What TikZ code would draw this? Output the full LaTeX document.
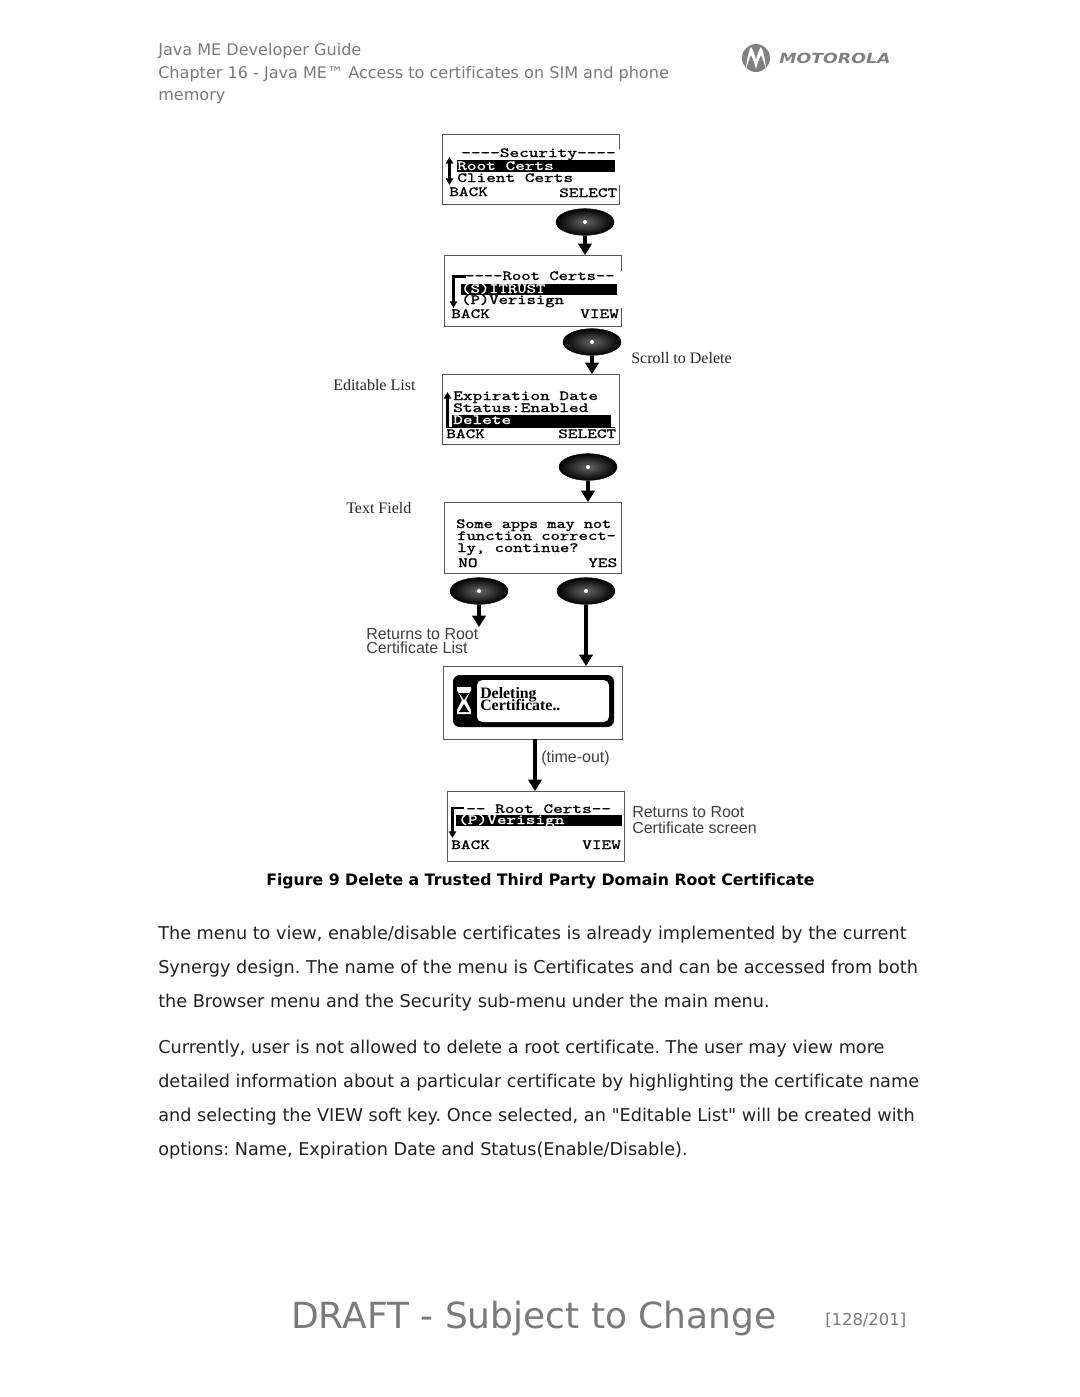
\documentclass[tikz,border=0pt]{standalone}
\usepackage{fontspec}
\usepackage{graphicx}
\setmainfont[Ligatures=NoCommon]{DejaVu Sans}
\newfontfamily\plainfont[Ligatures=NoCommon]{DejaVu Sans}
\newfontfamily\serifl{Liberation Serif}
\newfontfamily\sansl{Liberation Sans}
\newfontfamily\screenfont[FakeBold=1.0]{Latin Modern Mono}
\usetikzlibrary{arrows.meta,shapes.geometric,calc}
\definecolor{headgray}{HTML}{7A7A7A}
\definecolor{bodyink}{HTML}{222222}
\definecolor{framegray}{HTML}{555555}
\frenchspacing
\newcommand{\scr}[2][1.313]{\scalebox{#1}[1]{\screenfont\fontsize{10.5}{10.5}\selectfont #2}}
\tikzset{
  x=0.75pt, y=-0.75pt,
  headline/.style={anchor=base west, inner sep=0, text=headgray, font=\plainfont\fontsize{12.05}{12}\selectfont},
  bodyline/.style={anchor=base west, inner sep=0, text=bodyink, font=\plainfont\fontsize{13.25}{13}\selectfont},
  screenframe/.style={draw=framegray, line width=0.9pt, fill=white, minimum width=0, inner sep=0, rectangle},
  scrtext/.style={anchor=base west, inner sep=0, text=black},
  hitext/.style={anchor=base west, inner sep=0, text=white},
  hibar/.style={fill=black, draw=none},
  wheel/.style={ellipse, inner sep=0, minimum width=43.5pt, minimum height=20pt, inner color=black!60, outer color=black, draw=black, line width=0.3pt},
  wheeldot/.style={circle, fill=white, inner sep=0, minimum size=3pt},
  flow/.style={line width=2.3pt, -{Triangle[width=10pt,length=8.5pt]}, black},
  scrollarrow/.style={line width=1.8pt, -{Triangle[width=5.5pt,length=5pt]}, black},
  noteserif/.style={anchor=base west, inner sep=0, text=black!85, font=\serifl\fontsize{12}{12}\selectfont},
  notesans/.style={anchor=base west, inner sep=0, text=black!75, font=\sansl\fontsize{12}{12}\selectfont},
}
\newcommand{\screenbox}[5]{% name, left, top, right, bottom
  \node[screenframe, anchor=north west, minimum width={(#4-#2)*0.75pt}, minimum height={(#5-#3)*0.75pt}] (#1) at (#2,#3) {};
}
\begin{document}
\begin{tikzpicture}
\useasboundingbox (0,0) rectangle (1080,1397);
\fill[white] (0,0) rectangle (1080,1397);

% Page header
\node[headline] (h1) at (158,55) {Java ME Developer Guide};
\node[headline] (h2) at (158,78) {Chapter 16 - Java ME™ Access to certificates on SIM and phone};
\node[headline] (h3) at (158,100) {memory};

% Company logo
\node[circle, fill=black!50, inner sep=0, minimum size=21pt] (logo) at (756,58) {};
\fill[white] (746,69) .. controls (747,58) and (749,50) .. (751,47) .. controls (753,50) and (755,55) .. (756,60) .. controls (757,55) and (759,50) .. (761,47) .. controls (763,50) and (765,58) .. (766,69) .. controls (764,62) and (762,57) .. (761,55) .. controls (759,59) and (757,65) .. (756,69) .. controls (755,65) and (753,59) .. (751,55) .. controls (750,57) and (748,62) .. (746,69) -- cycle;
\node[anchor=base west, inner sep=0, text=black!50] (logotext) at (779,63) {\scalebox{1.24}[1]{\bfseries\itshape\fontsize{10.5}{10.5}\selectfont MOTOROLA}};

% Screen 1: Security menu
\screenbox{s1}{442}{134}{619}{204}
\fill[white] (617,149) rectangle (621,185);
\fill[hibar] (457,160) rectangle (615,172);
\node[scrtext] (s1a) at (461,157) {\scr{----Security----}};
\node[hitext] (s1b) at (457,170) {\scr{Root Certs}};
\node[scrtext] (s1c) at (457,182) {\scr{Client Certs}};
\node[scrtext] (s1d) at (449,196) {\scr{BACK}};
\node[scrtext] (s1e) at (559,197) {\scr{SELECT}};
\draw[scrollarrow] (449.5,173) -- (449.5,157);
\draw[scrollarrow] (449.5,166) -- (449.5,185);

% Screen 2: Root certificate list
\screenbox{s2}{444}{255}{621}{326}
\fill[white] (619,271) rectangle (623,308);
\fill[hibar] (461,284) rectangle (617,295);
\node[scrtext] (s2a) at (465,280) {\scr[1.27]{----Root Certs--}};
\node[hitext] (s2b) at (461,293) {\scr[1.27]{(S)ITRUST}};
\node[scrtext] (s2c) at (461,304) {\scr[1.27]{(P)Verisign}};
\node[scrtext] (s2d) at (451,318) {\scr{BACK}};
\node[scrtext] (s2e) at (580,318) {\scr{VIEW}};
\draw[scrollarrow] (466,276.5) -- (453.5,276.5) -- (453.5,308);

% Screen 3: Editable list
\screenbox{s3}{442}{374}{619}{444}
\fill[hibar] (452,415) rectangle (611,427);
\fill[hibar] (447,427) rectangle (615,428);
\node[scrtext] (s3a) at (453,400) {\scr{Expiration Date}};
\node[scrtext] (s3b) at (453,412) {\scr{Status:Enabled}};
\node[hitext] (s3c) at (453,424) {\scr{Delete}};
\node[scrtext] (s3d) at (446,438) {\scr{BACK}};
\node[scrtext] (s3e) at (558,438) {\scr{SELECT}};
\draw[scrollarrow] (447.5,428) -- (447.5,392);

% Screen 4: Confirmation text field
\screenbox{s4}{444}{502}{621}{573}
\node[scrtext] (s4a) at (456,528) {\scr[1.24]{Some apps may not}};
\node[scrtext] (s4b) at (457,540) {\scr[1.27]{function correct-}};
\node[scrtext] (s4c) at (457,552) {\scr[1.27]{ly, continue?}};
\node[scrtext] (s4d) at (458,567) {\scr{NO}};
\node[scrtext] (s4e) at (588,567) {\scr{YES}};

% Screen 5: Deleting progress
\screenbox{s5}{443}{666}{622}{739}
\fill[black, rounded corners=5pt] (453,675) rectangle (614,727);
\fill[white, rounded corners=4pt] (477,680) rectangle (609,722);
\fill[white] (457,687) -- (471,687) -- (471,690) -- (466,700) -- (471,710) -- (471,714) -- (457,714) -- (457,710) -- (462,700) -- (457,690) -- cycle;
\fill[black] (459,693) -- (469,693) -- (464,700) -- cycle;
\fill[black] (459,712) -- (464,704) -- (469,712) -- cycle;
\node[anchor=base west, inner sep=0, text=black] (s5a) at (480,698) {\serifl\bfseries\fontsize{11.9}{12}\selectfont Deleting};
\node[anchor=base west, inner sep=0, text=black] (s5b) at (480,710) {\serifl\bfseries\fontsize{11.9}{12}\selectfont Certificate..};

% Screen 6: Updated root list
\screenbox{s6}{447}{791}{624}{861}
\fill[hibar] (456,815) rectangle (622,826);
\node[scrtext] (s6a) at (466,813) {\scr{-- Root Certs--}};
\node[hitext] (s6b) at (458,824) {\scr{(P)Verisign}};
\node[scrtext] (s6c) at (451,849) {\scr{BACK}};
\node[scrtext] (s6d) at (582,849) {\scr{VIEW}};
\draw[scrollarrow] (464,808) -- (452.5,808) -- (452.5,838);

% Navigation keys
\node[wheel] (w1) at (585,222) {}; \node[wheeldot] (d1) at (w1) {};
\node[wheel] (w2) at (592,342) {}; \node[wheeldot] (d2) at (w2) {};
\node[wheel] (w3) at (588,467) {}; \node[wheeldot] (d3) at (w3) {};
\node[wheel] (w4) at (479,591) {}; \node[wheeldot] (d4) at (w4) {};
\node[wheel] (w5) at (586,591) {}; \node[wheeldot] (d5) at (w5) {};

% Transitions
\coordinate (back) at (479,627);
\coordinate (outtop) at (535,739);
\draw[flow] (w1.south) -- (w1.south |- s2.north);
\draw[flow] (w2.south) -- (w2.south |- s3.north);
\draw[flow] (w3.south) -- (w3.south |- s4.north);
\draw[flow] (w4.south) -- (back);
\draw[flow] (w5.south) -- (w5.south |- s5.north);
\draw[flow] (outtop) -- (outtop |- s6.north);

% Annotations
\node[noteserif] (n1) at (631,363) {Scroll to Delete};
\node[noteserif] (n2) at (333,390) {Editable List};
\node[noteserif] (n3) at (346,513) {Text Field};
\node[notesans] (n4) at (366,639) {Returns to Root};
\node[notesans] (n5) at (366,653) {Certificate List};
\node[notesans] (n6) at (541,762) {(time-out)};
\node[notesans] (n7) at (632,817) {Returns to Root};
\node[notesans] (n8) at (632,833) {Certificate screen};

% Caption
\node[anchor=base west, inner sep=0, text=black] (cap) at (266,885) {\plainfont\bfseries\fontsize{11.8}{12}\selectfont Figure 9 Delete a Trusted Third Party Domain Root Certificate};

% Body text
\node[bodyline] (b1) at (158,939) {The menu to view, enable/disable certificates is already implemented by the current};
\node[bodyline] (b2) at (158,973) {Synergy design. The name of the menu is Certificates and can be accessed from both};
\node[bodyline] (b3) at (158,1007) {the Browser menu and the Security sub-menu under the main menu.};
\node[bodyline] (b4) at (158,1053) {Currently, user is not allowed to delete a root certificate. The user may view more};
\node[bodyline] (b5) at (158,1087) {detailed information about a particular certificate by highlighting the certificate name};
\node[bodyline] (b6) at (158,1121) {and selecting the VIEW soft key. Once selected, an "Editable List" will be created with};
\node[bodyline] (b7) at (158,1155) {options: Name, Expiration Date and Status(Enable/Disable).};

% Footer
\node[anchor=base west, inner sep=0, text=headgray, font=\fontsize{27}{27}\selectfont] (foot) at (291,1328) {DRAFT - Subject to Change};
\node[anchor=base west, inner sep=0, text=headgray, font=\fontsize{12.3}{12}\selectfont] (page) at (825,1325) {[128/201]};
\end{tikzpicture}
\end{document}
